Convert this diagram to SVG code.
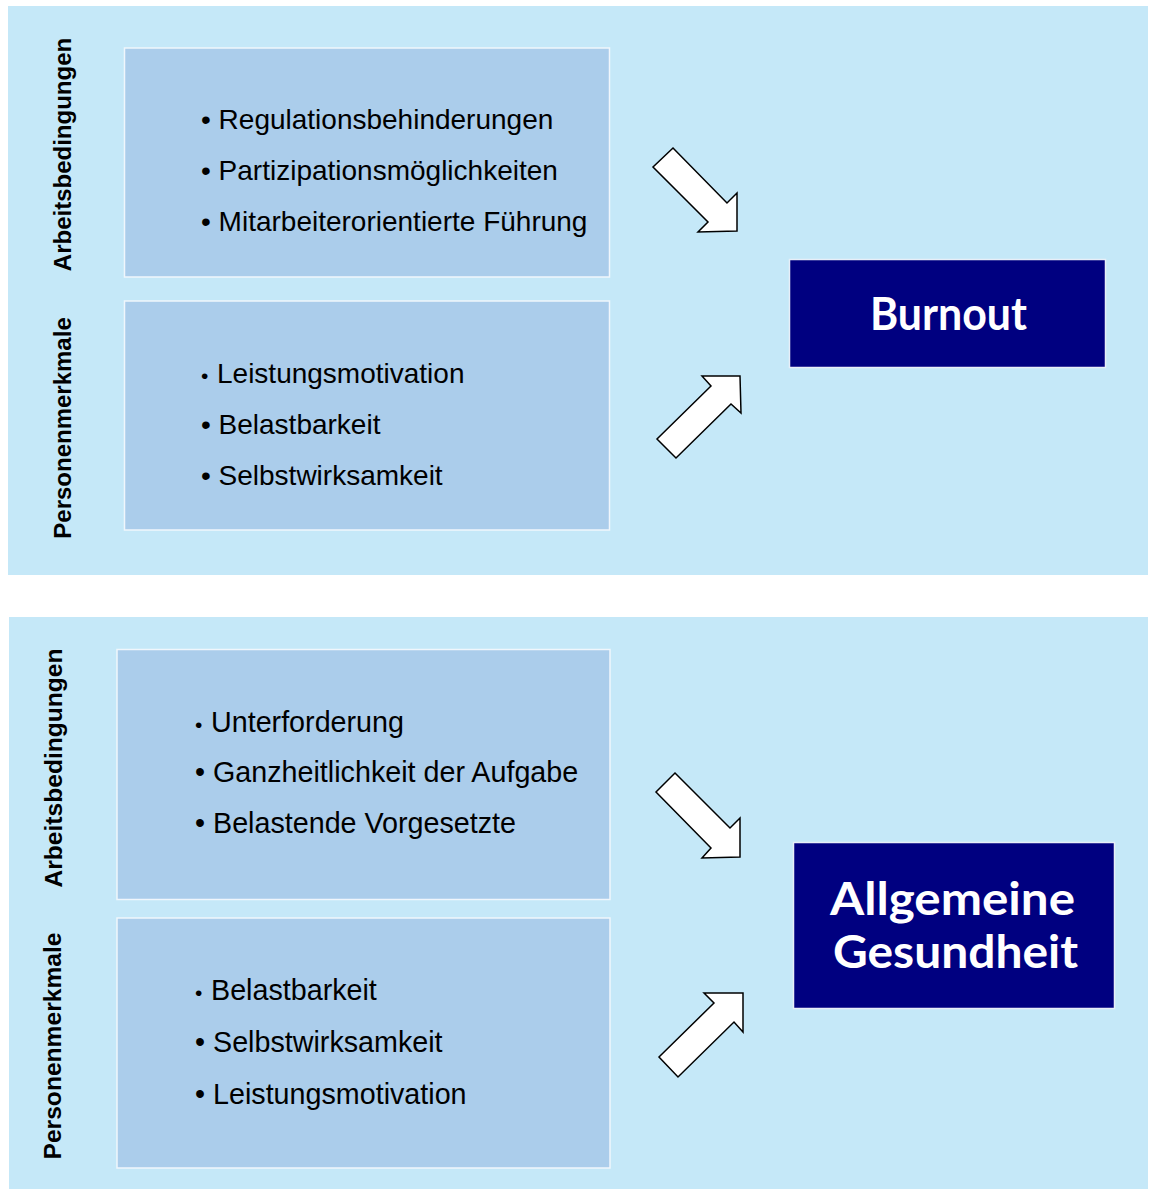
<svg xmlns="http://www.w3.org/2000/svg" width="1153" height="1189" viewBox="0 0 1153 1189">
<style>
.panel{fill:#c5e8f8}
.box{fill:#abcdeb;stroke:#f0f6fc;stroke-width:1.5}
.out{fill:#000080;stroke:#e8eef8;stroke-width:1.5}
.item{font-family:"Liberation Sans",Arial,sans-serif;font-size:28px;fill:#000}
.item2{font-size:28.7px}
.sb{font-size:21px}
.side{font-family:"Liberation Sans",Arial,sans-serif;font-size:24px;font-weight:bold;fill:#000;text-anchor:middle}
.side2{font-size:24.6px}
.big{font-family:Lato,"Open Sans",sans-serif;font-size:46px;font-weight:bold;fill:#fff}
.arrow{fill:#fff;stroke:#000;stroke-width:1.5;stroke-linejoin:miter}
</style>
<rect width="1153" height="1189" fill="#fff"/>
<g id="panel-burnout">
<rect class="panel" x="8" y="6" width="1140" height="569"/>
</g>
<g id="panel-gesundheit">
<rect class="panel" x="9" y="617" width="1139" height="572"/>
</g>
<g id="label-arbeit-1"><text class="side" transform="translate(71,154.5) rotate(-90)">Arbeitsbedingungen</text></g>
<g id="label-person-1"><text class="side" transform="translate(71,428) rotate(-90)">Personenmerkmale</text></g>
<g id="label-arbeit-2"><text class="side side2" transform="translate(62,768) rotate(-90)">Arbeitsbedingungen</text></g>
<g id="label-person-2"><text class="side side2" transform="translate(61,1046) rotate(-90)">Personenmerkmale</text></g>
<g id="box-arbeit-1">
<rect class="box" x="124.5" y="48" width="485" height="229"/>
<text class="item" x="201" y="129">• Regulationsbehinderungen</text>
<text class="item" x="201" y="180">• Partizipationsmöglichkeiten</text>
<text class="item" x="201" y="231">• Mitarbeiterorientierte Führung</text>
</g>
<g id="box-person-1">
<rect class="box" x="124.5" y="301" width="485" height="229"/>
<text class="item" y="383"><tspan class="sb" x="201">•</tspan><tspan x="217">Leistungsmotivation</tspan></text>
<text class="item" x="201" y="434">• Belastbarkeit</text>
<text class="item" x="201" y="485">• Selbstwirksamkeit</text>
</g>
<g id="box-arbeit-2">
<rect class="box" x="117" y="649.5" width="493" height="250"/>
<text class="item item2" y="732"><tspan class="sb" x="195">•</tspan><tspan x="211">Unterforderung</tspan></text>
<text class="item item2" x="195" y="782">• Ganzheitlichkeit der Aufgabe</text>
<text class="item item2" x="195" y="833">• Belastende Vorgesetzte</text>
</g>
<g id="box-person-2">
<rect class="box" x="117" y="918" width="493" height="250"/>
<text class="item item2" y="1000"><tspan class="sb" x="195">•</tspan><tspan x="211">Belastbarkeit</tspan></text>
<text class="item item2" x="195" y="1052">• Selbstwirksamkeit</text>
<text class="item item2" x="195" y="1104">• Leistungsmotivation</text>
</g>
<g id="node-burnout">
<rect class="out" x="789.5" y="259.5" width="316" height="108"/>
<text class="big" x="870" y="330" textLength="157" lengthAdjust="spacingAndGlyphs">Burnout</text>
</g>
<g id="node-gesundheit">
<rect class="out" x="793.5" y="842.5" width="321" height="166"/>
<text class="big" x="830" y="915" textLength="245" lengthAdjust="spacingAndGlyphs">Allgemeine</text>
<text class="big" x="833" y="968" textLength="245" lengthAdjust="spacingAndGlyphs">Gesundheit</text>
</g>
<g id="connectors">
<polygon class="arrow" points="673,148 727,203 737,193 737,231 698,232 708,222 653,167"/>
<polygon class="arrow" points="740,376 702,376 711,386 657,439 676,458 731,404 741,413"/>
<polygon class="arrow" points="675,773 730,828 740,818 740,857 702,858 711,848 656,792"/>
<polygon class="arrow" points="743,993 704,993 714,1003 659,1057 678,1077 734,1022 743,1032"/>
</g>
</svg>
